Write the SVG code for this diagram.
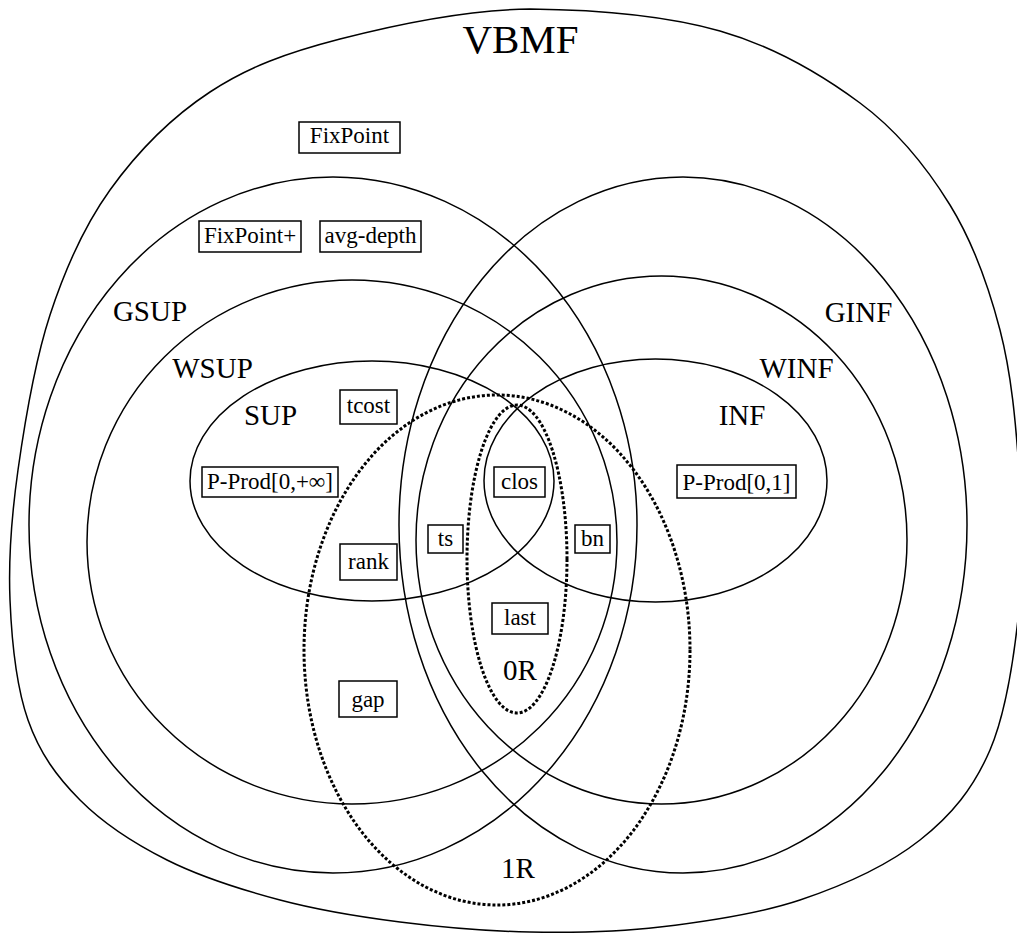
<svg xmlns="http://www.w3.org/2000/svg" width="1017" height="933" viewBox="0 0 1017 933">
  <style>
    .region { fill: none; stroke: #000; stroke-width: 1.5; }
    .dotted { fill: none; stroke: #000; stroke-width: 3; stroke-dasharray: 3 2; }
    .box { fill: #fff; stroke: #000; stroke-width: 1.5; }
    .label { font-size: 29px; fill: #000; text-anchor: middle; }
    .title { font-size: 41px; fill: #000; text-anchor: middle; }
    .item { font-size: 23px; fill: #000; text-anchor: middle; }
  </style>

  <rect width="1017" height="933" fill="#fff"/>

  <g font-family="Liberation Serif, Times New Roman, serif">

  <!-- outer VBMF boundary -->
  <g id="vbmf">
    <path class="region" d="M530,9
      C593.3,9.7 665,15.3 720,31
      C775,46.7 821.7,74.7 860,103
      C898.3,131.3 926.7,167.2 950,205
      C973.3,242.8 988.5,285.8 1000,330
      C1011.5,374.2 1015.8,423.3 1019,470
      C1022.2,516.7 1023.8,563.3 1019,610
      C1014.2,656.7 1006.5,711.7 990,750
      C973.5,788.3 951.7,815 920,840
      C888.3,865 843.3,885.5 800,900
      C756.7,914.5 705,921.7 660,927
      C615,932.3 573.3,932.8 530,932
      C486.7,931.2 441.7,927.3 400,922
      C358.3,916.7 318.8,910.3 280,900
      C241.2,889.7 200.3,876.7 167,860
      C133.7,843.3 103.2,823.3 80,800
      C56.8,776.7 39.7,753.3 28,720
      C16.3,686.7 11.7,641.7 10,600
      C8.3,558.3 11.3,517.5 18,470
      C24.7,422.5 34.7,361.7 50,315
      C65.3,268.3 83.3,227.2 110,190
      C136.7,152.8 171.7,117.2 210,92
      C248.3,66.8 286.7,52.8 340,39
      C393.3,25.2 466.7,9.7 530,9 Z"/>
    <text class="title" x="520.5" y="53">VBMF</text>
  </g>

  <!-- supermodular family -->
  <g id="gsup">
    <ellipse class="region" cx="333" cy="525" rx="304" ry="348"/>
    <text class="label" x="150" y="321">GSUP</text>
  </g>
  <g id="wsup">
    <ellipse class="region" cx="352" cy="542" rx="265" ry="262"/>
    <text class="label" x="212.5" y="378">WSUP</text>
  </g>
  <g id="sup">
    <ellipse class="region" cx="372" cy="481" rx="182" ry="120"/>
    <text class="label" x="270.5" y="425">SUP</text>
  </g>

  <!-- inframodular family -->
  <g id="ginf">
    <ellipse class="region" cx="683" cy="525" rx="284" ry="348"/>
    <text class="label" x="858.5" y="322">GINF</text>
  </g>
  <g id="winf">
    <ellipse class="region" cx="661.5" cy="540" rx="245.5" ry="264"/>
    <text class="label" x="796.5" y="378">WINF</text>
  </g>
  <g id="inf">
    <ellipse class="region" cx="655.5" cy="480.5" rx="171.5" ry="121.5"/>
    <text class="label" x="742" y="425">INF</text>
  </g>

  <!-- rank-based regions (dotted) -->
  <g id="r1">
    <ellipse class="dotted" cx="497" cy="650" rx="193" ry="255"/>
    <text class="label" x="518" y="878">1R</text>
  </g>
  <g id="r0">
    <ellipse class="dotted" cx="517" cy="559" rx="50" ry="154"/>
    <text class="label" x="520" y="680">0R</text>
  </g>

  <!-- measures -->
  <g id="fixpoint">
    <rect class="box" x="299" y="122" width="101" height="31"/>
    <text class="item" x="349.5" y="143">FixPoint</text>
  </g>
  <g id="fixpoint-plus">
    <rect class="box" x="199" y="221" width="102" height="31"/>
    <text class="item" x="250" y="243">FixPoint+</text>
  </g>
  <g id="avg-depth">
    <rect class="box" x="320" y="221" width="101" height="31"/>
    <text class="item" x="370.5" y="243">avg-depth</text>
  </g>
  <g id="tcost">
    <rect class="box" x="340" y="390" width="57" height="34"/>
    <text class="item" x="368.5" y="413">tcost</text>
  </g>
  <g id="pprod-inf">
    <rect class="box" x="202" y="467" width="136" height="30"/>
    <text class="item" x="270" y="489">P-Prod[0,+∞]</text>
  </g>
  <g id="clos">
    <rect class="box" x="494" y="467" width="51" height="30"/>
    <text class="item" x="519.5" y="489">clos</text>
  </g>
  <g id="pprod-01">
    <rect class="box" x="677" y="465" width="119" height="33"/>
    <text class="item" x="736.5" y="490">P-Prod[0,1]</text>
  </g>
  <g id="ts">
    <rect class="box" x="428" y="525" width="35" height="28"/>
    <text class="item" x="445.5" y="546">ts</text>
  </g>
  <g id="bn">
    <rect class="box" x="575" y="525" width="35" height="28"/>
    <text class="item" x="592.5" y="546">bn</text>
  </g>
  <g id="rank">
    <rect class="box" x="340" y="544" width="57" height="36"/>
    <text class="item" x="368.5" y="569">rank</text>
  </g>
  <g id="last">
    <rect class="box" x="492" y="603" width="56" height="31"/>
    <text class="item" x="520" y="625">last</text>
  </g>
  <g id="gap">
    <rect class="box" x="339" y="681" width="58" height="36"/>
    <text class="item" x="368" y="707">gap</text>
  </g>

  </g>
</svg>
